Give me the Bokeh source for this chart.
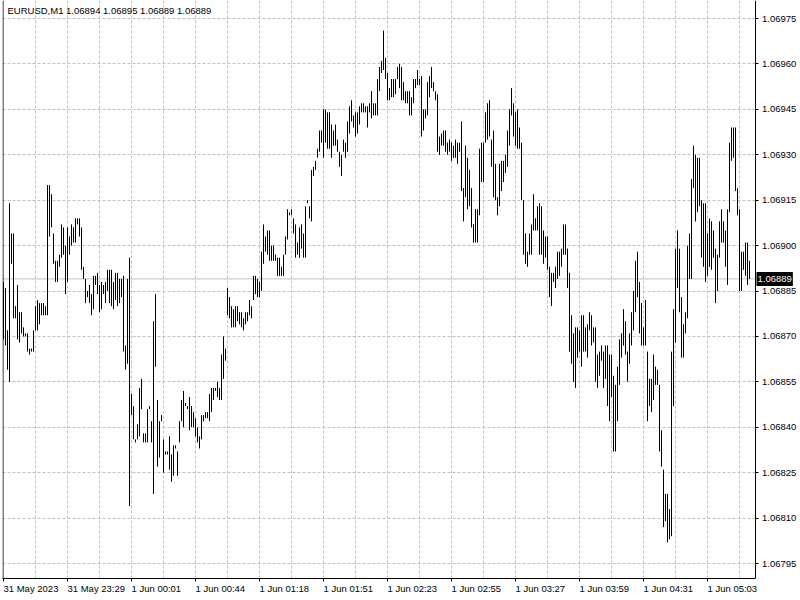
from bokeh.plotting import figure
from bokeh.models import (Range1d, FixedTicker, Span, Label, ColumnDataSource,
                          PrintfTickFormatter, BoxAnnotation)
from bokeh.embed import file_html
from bokeh.resources import INLINE

# ---------------- data ----------------
symbol = "EURUSD,M1"
last_ohlc = [1.06894, 1.06895, 1.06889, 1.06889]  # open, high, low, close of the last bar

bar_high = [
    1.06888, 1.06886, 1.06872, 1.06914, 1.06904, 1.06904, 1.06880, 1.06887, 1.06878, 1.06878,
    1.06873, 1.06871, 1.06871, 1.06866, 1.06866, 1.06872, 1.06880, 1.06882, 1.06881, 1.06881,
    1.06881, 1.06880, 1.06920, 1.06920, 1.06917, 1.06904, 1.06895, 1.06895, 1.06897, 1.06907,
    1.06906, 1.06900, 1.06906, 1.06903, 1.06907, 1.06906, 1.06909, 1.06909, 1.06909, 1.06906,
    1.06893, 1.06889, 1.06885, 1.06887, 1.06884, 1.06890, 1.06890, 1.06891, 1.06887, 1.06888,
    1.06887, 1.06888, 1.06892, 1.06892, 1.06892, 1.06888, 1.06891, 1.06891, 1.06889, 1.06889,
    1.06890, 1.06867, 1.06889, 1.06896, 1.06851, 1.06847, 1.06836, 1.06841, 1.06853, 1.06856,
    1.06838, 1.06838, 1.06846, 1.06847, 1.06842, 1.06875, 1.06884, 1.06849, 1.06842, 1.06844,
    1.06836, 1.06832, 1.06832, 1.06837, 1.06831, 1.06834, 1.06834, 1.06832, 1.06842, 1.06849,
    1.06852, 1.06848, 1.06847, 1.06850, 1.06847, 1.06845, 1.06843, 1.06840, 1.06837, 1.06844,
    1.06844, 1.06845, 1.06845, 1.06851, 1.06853, 1.06853, 1.06853, 1.06855, 1.06853, 1.06864,
    1.06870, 1.06866, 1.06886, 1.06883, 1.06880, 1.06879, 1.06880, 1.06880, 1.06878, 1.06878,
    1.06876, 1.06878, 1.06878, 1.06882, 1.06880, 1.06890, 1.06890, 1.06889, 1.06888, 1.06898,
    1.06907, 1.06903, 1.06905, 1.06905, 1.06900, 1.06900, 1.06897, 1.06896, 1.06896, 1.06893,
    1.06897, 1.06903, 1.06912, 1.06911, 1.06912, 1.06909, 1.06907, 1.06901, 1.06906, 1.06907,
    1.06904, 1.06913, 1.06915, 1.06913, 1.06925, 1.06926, 1.06928, 1.06932, 1.06938, 1.06938,
    1.06945, 1.06945, 1.06944, 1.06944, 1.06940, 1.06938, 1.06940, 1.06935, 1.06931, 1.06930,
    1.06935, 1.06934, 1.06941, 1.06946, 1.06948, 1.06943, 1.06944, 1.06944, 1.06946, 1.06947,
    1.06947, 1.06946, 1.06946, 1.06947, 1.06951, 1.06947, 1.06947, 1.06955, 1.06959, 1.06961,
    1.06971, 1.06962, 1.06957, 1.06952, 1.06955, 1.06955, 1.06955, 1.06959, 1.06960, 1.06959,
    1.06954, 1.06951, 1.06951, 1.06951, 1.06949, 1.06955, 1.06955, 1.06958, 1.06955, 1.06956,
    1.06945, 1.06945, 1.06954, 1.06956, 1.06959, 1.06954, 1.06951, 1.06950, 1.06936, 1.06937,
    1.06938, 1.06938, 1.06934, 1.06935, 1.06934, 1.06933, 1.06935, 1.06934, 1.06934, 1.06941,
    1.06919, 1.06933, 1.06929, 1.06925, 1.06919, 1.06907, 1.06912, 1.06912, 1.06932, 1.06934,
    1.06934, 1.06944, 1.06947, 1.06948, 1.06935, 1.06938, 1.06927, 1.06916, 1.06927, 1.06928,
    1.06928, 1.06930, 1.06938, 1.06945, 1.06952, 1.06947, 1.06944, 1.06945, 1.06939, 1.06934,
    1.06915, 1.06904, 1.06898, 1.06904, 1.06907, 1.06917, 1.06909, 1.06913, 1.06914, 1.06913,
    1.06905, 1.06903, 1.06903, 1.06893, 1.06891, 1.06891, 1.06893, 1.06898, 1.06898, 1.06899,
    1.06907, 1.06907, 1.06899, 1.06891, 1.06877, 1.06871, 1.06873, 1.06873, 1.06872, 1.06877,
    1.06877, 1.06873, 1.06874, 1.06878, 1.06877, 1.06873, 1.06873, 1.06864, 1.06865, 1.06867,
    1.06865, 1.06867, 1.06867, 1.06864, 1.06864, 1.06857, 1.06854, 1.06860, 1.06869, 1.06871,
    1.06879, 1.06875, 1.06865, 1.06871, 1.06878, 1.06885, 1.06895, 1.06898, 1.06888, 1.06881,
    1.06873, 1.06882, 1.06865, 1.06856, 1.06856, 1.06864, 1.06860, 1.06859, 1.06854, 1.06839,
    1.06826, 1.06818, 1.06818, 1.06813, 1.06865, 1.06879, 1.06899, 1.06905, 1.06899, 1.06883,
    1.06874, 1.06878, 1.06900, 1.06904, 1.06922, 1.06933, 1.06930, 1.06929, 1.06929, 1.06915,
    1.06914, 1.06914, 1.06904, 1.06909, 1.06908, 1.06905, 1.06899, 1.06897, 1.06908, 1.06912,
    1.06908, 1.06905, 1.06912, 1.06934, 1.06939, 1.06939, 1.06939, 1.06919, 1.06912, 1.06898,
    1.06898, 1.06901, 1.06901, 1.06895,
]

bar_low = [
    1.06869, 1.06867, 1.06859, 1.06855, 1.06894, 1.06876, 1.06876, 1.06869, 1.06868, 1.06871,
    1.06870, 1.06870, 1.06865, 1.06864, 1.06865, 1.06865, 1.06872, 1.06872, 1.06874, 1.06877,
    1.06877, 1.06877, 1.06877, 1.06903, 1.06906, 1.06894, 1.06888, 1.06888, 1.06893, 1.06896,
    1.06897, 1.06884, 1.06888, 1.06897, 1.06900, 1.06901, 1.06901, 1.06907, 1.06903, 1.06892,
    1.06889, 1.06881, 1.06883, 1.06881, 1.06877, 1.06879, 1.06887, 1.06884, 1.06878, 1.06879,
    1.06884, 1.06881, 1.06885, 1.06881, 1.06880, 1.06879, 1.06882, 1.06880, 1.06881, 1.06883,
    1.06865, 1.06859, 1.06861, 1.06814, 1.06844, 1.06836, 1.06835, 1.06836, 1.06837, 1.06846,
    1.06835, 1.06835, 1.06835, 1.06846, 1.06835, 1.06818, 1.06860, 1.06827, 1.06830, 1.06842,
    1.06825, 1.06831, 1.06831, 1.06826, 1.06822, 1.06824, 1.06833, 1.06824, 1.06835, 1.06842,
    1.06840, 1.06847, 1.06846, 1.06839, 1.06840, 1.06840, 1.06837, 1.06835, 1.06833, 1.06836,
    1.06842, 1.06843, 1.06843, 1.06842, 1.06845, 1.06849, 1.06852, 1.06850, 1.06849, 1.06849,
    1.06856, 1.06862, 1.06877, 1.06876, 1.06873, 1.06873, 1.06873, 1.06875, 1.06874, 1.06873,
    1.06872, 1.06874, 1.06875, 1.06877, 1.06876, 1.06882, 1.06884, 1.06883, 1.06883, 1.06885,
    1.06894, 1.06898, 1.06897, 1.06895, 1.06895, 1.06895, 1.06895, 1.06890, 1.06890, 1.06890,
    1.06890, 1.06897, 1.06902, 1.06910, 1.06910, 1.06904, 1.06896, 1.06897, 1.06896, 1.06899,
    1.06896, 1.06896, 1.06914, 1.06909, 1.06908, 1.06923, 1.06925, 1.06929, 1.06931, 1.06934,
    1.06929, 1.06934, 1.06932, 1.06932, 1.06929, 1.06933, 1.06933, 1.06931, 1.06926, 1.06923,
    1.06931, 1.06929, 1.06931, 1.06937, 1.06941, 1.06939, 1.06936, 1.06937, 1.06940, 1.06944,
    1.06944, 1.06944, 1.06939, 1.06944, 1.06942, 1.06943, 1.06943, 1.06943, 1.06951, 1.06957,
    1.06958, 1.06955, 1.06948, 1.06948, 1.06949, 1.06949, 1.06950, 1.06955, 1.06952, 1.06948,
    1.06948, 1.06947, 1.06947, 1.06943, 1.06943, 1.06947, 1.06952, 1.06953, 1.06953, 1.06936,
    1.06938, 1.06942, 1.06943, 1.06949, 1.06952, 1.06951, 1.06948, 1.06931, 1.06930, 1.06933,
    1.06933, 1.06931, 1.06930, 1.06931, 1.06928, 1.06929, 1.06929, 1.06927, 1.06931, 1.06918,
    1.06908, 1.06916, 1.06912, 1.06913, 1.06906, 1.06901, 1.06901, 1.06901, 1.06910, 1.06921,
    1.06921, 1.06934, 1.06935, 1.06936, 1.06926, 1.06916, 1.06915, 1.06910, 1.06913, 1.06918,
    1.06921, 1.06924, 1.06926, 1.06933, 1.06943, 1.06936, 1.06933, 1.06932, 1.06932, 1.06915,
    1.06897, 1.06894, 1.06893, 1.06897, 1.06897, 1.06905, 1.06905, 1.06905, 1.06897, 1.06897,
    1.06894, 1.06896, 1.06892, 1.06883, 1.06880, 1.06888, 1.06886, 1.06889, 1.06890, 1.06893,
    1.06897, 1.06897, 1.06886, 1.06865, 1.06861, 1.06855, 1.06853, 1.06863, 1.06865, 1.06860,
    1.06865, 1.06865, 1.06863, 1.06872, 1.06867, 1.06868, 1.06855, 1.06853, 1.06857, 1.06862,
    1.06853, 1.06856, 1.06847, 1.06842, 1.06850, 1.06832, 1.06832, 1.06842, 1.06854, 1.06863,
    1.06867, 1.06864, 1.06855, 1.06861, 1.06867, 1.06872, 1.06878, 1.06883, 1.06871, 1.06867,
    1.06867, 1.06867, 1.06842, 1.06847, 1.06845, 1.06849, 1.06854, 1.06854, 1.06832, 1.06827,
    1.06807, 1.06809, 1.06802, 1.06803, 1.06804, 1.06847, 1.06868, 1.06886, 1.06878, 1.06863,
    1.06863, 1.06871, 1.06876, 1.06889, 1.06889, 1.06919, 1.06908, 1.06911, 1.06913, 1.06896,
    1.06893, 1.06888, 1.06890, 1.06893, 1.06892, 1.06896, 1.06881, 1.06885, 1.06896, 1.06901,
    1.06901, 1.06893, 1.06887, 1.06911, 1.06928, 1.06929, 1.06918, 1.06910, 1.06885, 1.06885,
    1.06892, 1.06890, 1.06887, 1.06889,
]

time_labels = [
    "31 May 2023", "31 May 23:29", "1 Jun 00:01", "1 Jun 00:44", "1 Jun 01:18", "1 Jun 01:51",
    "1 Jun 02:23", "1 Jun 02:55", "1 Jun 03:27", "1 Jun 03:59", "1 Jun 04:31", "1 Jun 05:03",
]
label_every = 32      # bars between two time labels
grid_every = 16       # bars between two vertical grid lines

price_ticks = [1.06795, 1.06810, 1.06825, 1.06840, 1.06855, 1.06870, 1.06885,
               1.06900, 1.06915, 1.06930, 1.06945, 1.06960, 1.06975]

# ---------------- chart ----------------
FONT = "Liberation Sans"
FRAME_W, FRAME_H = 798, 578          # frame runs under the price scale too
Y0, Y1 = 1.0679005, 1.0698095
n = len(bar_high)
X_START = -0.5                         # 2 px per bar
X_END = X_START + FRAME_W / 2.0
SCALE_X = n + 1.75                     # where the price scale line sits (in bar units)

bars = list(range(n))
src = ColumnDataSource(data=dict(bar=bars, high=bar_high, low=bar_low))

p = figure(
    frame_width=FRAME_W, frame_height=FRAME_H,
    x_range=Range1d(X_START, X_END),
    y_range=Range1d(Y0, Y1),
    y_axis_location="right",
    output_backend="svg", toolbar_location=None,
    min_border_left=2, min_border_top=0, min_border_right=0, min_border_bottom=22,
    background_fill_color="white", border_fill_color="white",
)
p.outline_line_color = None

# axes
label_bars = [i * label_every for i in range(len(time_labels))]
p.xaxis.ticker = FixedTicker(ticks=label_bars)
p.xaxis.major_label_overrides = {b: t for b, t in zip(label_bars, time_labels)}
p.xaxis.major_label_orientation = -1e-6
p.xaxis.bounds = (X_START, SCALE_X)
p.yaxis.ticker = FixedTicker(ticks=price_ticks)
p.yaxis.formatter = PrintfTickFormatter(format="%.5f")
p.yaxis.fixed_location = SCALE_X

for ax in (p.xaxis[0], p.yaxis[0]):
    ax.axis_line_color = "black"
    ax.axis_line_width = 1
    ax.major_tick_line_color = "black"
    ax.major_tick_in = 0
    ax.major_tick_out = 3
    ax.minor_tick_line_color = None
    ax.major_label_text_font = FONT
    ax.major_label_text_font_size = "9.5px"
    ax.major_label_text_color = "black"
p.xaxis.major_label_standoff = 7
p.yaxis.major_label_standoff = 4

# grids
p.xgrid.ticker = FixedTicker(ticks=list(range(grid_every, n, grid_every)))
p.ygrid.ticker = FixedTicker(ticks=price_ticks)
for g in (p.xgrid[0], p.ygrid[0]):
    g.grid_line_color = "#c0c0c0"
    g.grid_line_dash = "3 2"
    g.grid_line_width = 1

# left frame border and current-price line
p.add_layout(Span(location=-0.25, dimension="height", line_color="black", line_width=1))
p.add_layout(Span(location=last_ohlc[3], dimension="width", line_color="#c0c0c0",
                  line_width=1, level="underlay"))
# blank price-scale strip (hides grid / price line right of the scale)
p.add_layout(BoxAnnotation(left=SCALE_X, fill_color="white", fill_alpha=1.0,
                           line_color=None, level="underlay"))

# OHLC bars (at this zoom only high-low lines are visible)
p.segment(x0="bar", y0="low", x1="bar", y1="high", source=src, line_color="black", line_width=1)

# header text
header = symbol + "  " + " ".join("%.5f" % v for v in last_ohlc)
p.add_layout(Label(x=5, y=FRAME_H - 10, x_units="screen", y_units="screen", text=header,
                   text_font=FONT, text_font_size="9.5px", text_color="black",
                   text_baseline="middle"))

# current price tag on the price scale
p.add_layout(Label(x=SCALE_X + 0.75, y=last_ohlc[3], text="%.5f" % last_ohlc[3],
                   text_font=FONT, text_font_size="9.5px", text_color="white",
                   text_baseline="middle", background_fill_color="black",
                   padding=(1, 4)))

open("out.html", "w").write(file_html(p, INLINE))
